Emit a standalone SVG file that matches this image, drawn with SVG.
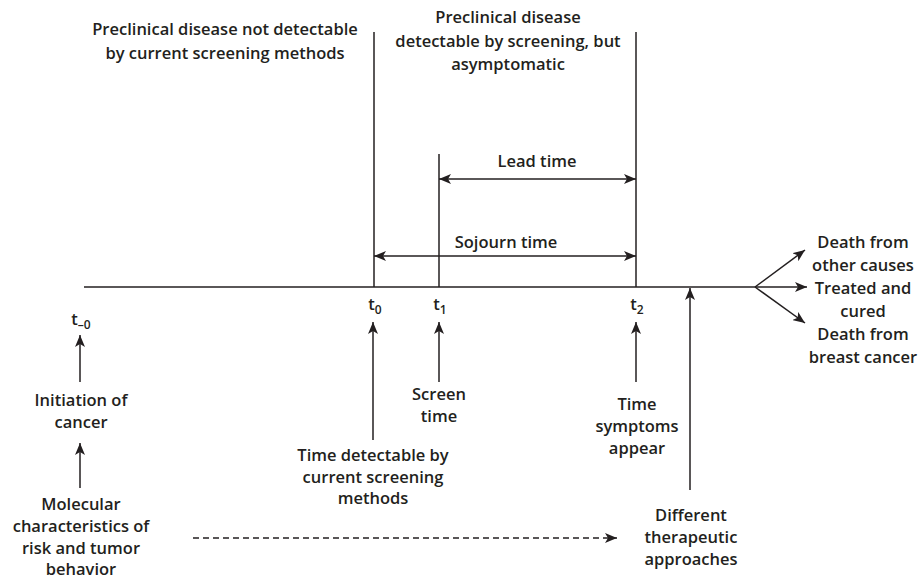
<svg xmlns="http://www.w3.org/2000/svg" width="922" height="580" viewBox="0 0 922 580">
<style>
text{font-family:"Open Sans","Noto Sans","Liberation Sans",sans-serif;font-weight:600;font-size:16.5px;fill:#231f20;text-anchor:middle}
.ln{stroke:#231f20;stroke-width:1.5;fill:none}
.ar{marker-end:url(#ah)}
.dbl{marker-start:url(#ah);marker-end:url(#ah)}
.sub{font-size:12px}
</style>
<defs>
<marker id="ah" viewBox="0 0 12 10" refX="12" refY="5" markerWidth="12" markerHeight="10" markerUnits="userSpaceOnUse" orient="auto-start-reverse">
<path d="M0,0 L12,5 L0,10 L3,5 Z" fill="#231f20"/>
</marker>
</defs>
<rect width="922" height="580" fill="#fff"/>
<g id="connectors">
<path class="ln" d="M84,287 H755"/>
<path class="ln ar" d="M755,287 L805,250"/>
<path class="ln ar" d="M755,287 H807"/>
<path class="ln ar" d="M755,287 L805,323"/>
<path class="ln" d="M374,32 V287"/>
<path class="ln" d="M439,154 V287"/>
<path class="ln" d="M636,32 V287"/>
<path class="ln dbl" d="M439,179 H636"/>
<path class="ln dbl" d="M374,256 H636"/>
<path class="ln ar" d="M80,382 V335"/>
<path class="ln ar" d="M80,488 V443"/>
<path class="ln ar" d="M373,440 V322"/>
<path class="ln ar" d="M439,382 V322"/>
<path class="ln ar" d="M636,382 V322"/>
<path class="ln ar" d="M690,490 V288"/>
<path class="ln ar" d="M193,538 H617" stroke-dasharray="6 4"/>
</g>
<g id="label-not-detectable">
<text x="225" y="35">Preclinical disease not detectable</text>
<text x="225" y="59">by current screening methods</text>
</g>
<g id="label-detectable">
<text x="508" y="23">Preclinical disease</text>
<text x="508" y="47">detectable by screening, but</text>
<text x="508" y="70">asymptomatic</text>
</g>
<g id="label-lead"><text x="537" y="167">Lead time</text></g>
<g id="label-sojourn"><text x="506" y="248">Sojourn time</text></g>
<g id="t-minus0"><text x="81" y="325">t<tspan class="sub" dy="4">–0</tspan></text></g>
<g id="t0"><text x="375" y="310">t<tspan class="sub" dy="4">0</tspan></text></g>
<g id="t1"><text x="440" y="310">t<tspan class="sub" dy="4">1</tspan></text></g>
<g id="t2"><text x="637" y="310">t<tspan class="sub" dy="4">2</tspan></text></g>
<g id="initiation">
<text x="81" y="406">Initiation of</text>
<text x="81" y="428">cancer</text>
</g>
<g id="molecular">
<text x="81" y="510">Molecular</text>
<text x="81" y="532">characteristics of</text>
<text x="81" y="554">risk and tumor</text>
<text x="81" y="575">behavior</text>
</g>
<g id="time-detectable">
<text x="373" y="461">Time detectable by</text>
<text x="373" y="483">current screening</text>
<text x="373" y="504">methods</text>
</g>
<g id="screen-time">
<text x="439" y="400">Screen</text>
<text x="439" y="422">time</text>
</g>
<g id="symptoms">
<text x="637" y="410">Time</text>
<text x="637" y="432">symptoms</text>
<text x="637" y="454">appear</text>
</g>
<g id="therapeutic">
<text x="691" y="521">Different</text>
<text x="691" y="543">therapeutic</text>
<text x="691" y="565">approaches</text>
</g>
<g id="outcomes">
<text x="863" y="248">Death from</text>
<text x="863" y="271">other causes</text>
<text x="863" y="294">Treated and</text>
<text x="863" y="317">cured</text>
<text x="863" y="340">Death from</text>
<text x="863" y="363">breast cancer</text>
</g>
</svg>
